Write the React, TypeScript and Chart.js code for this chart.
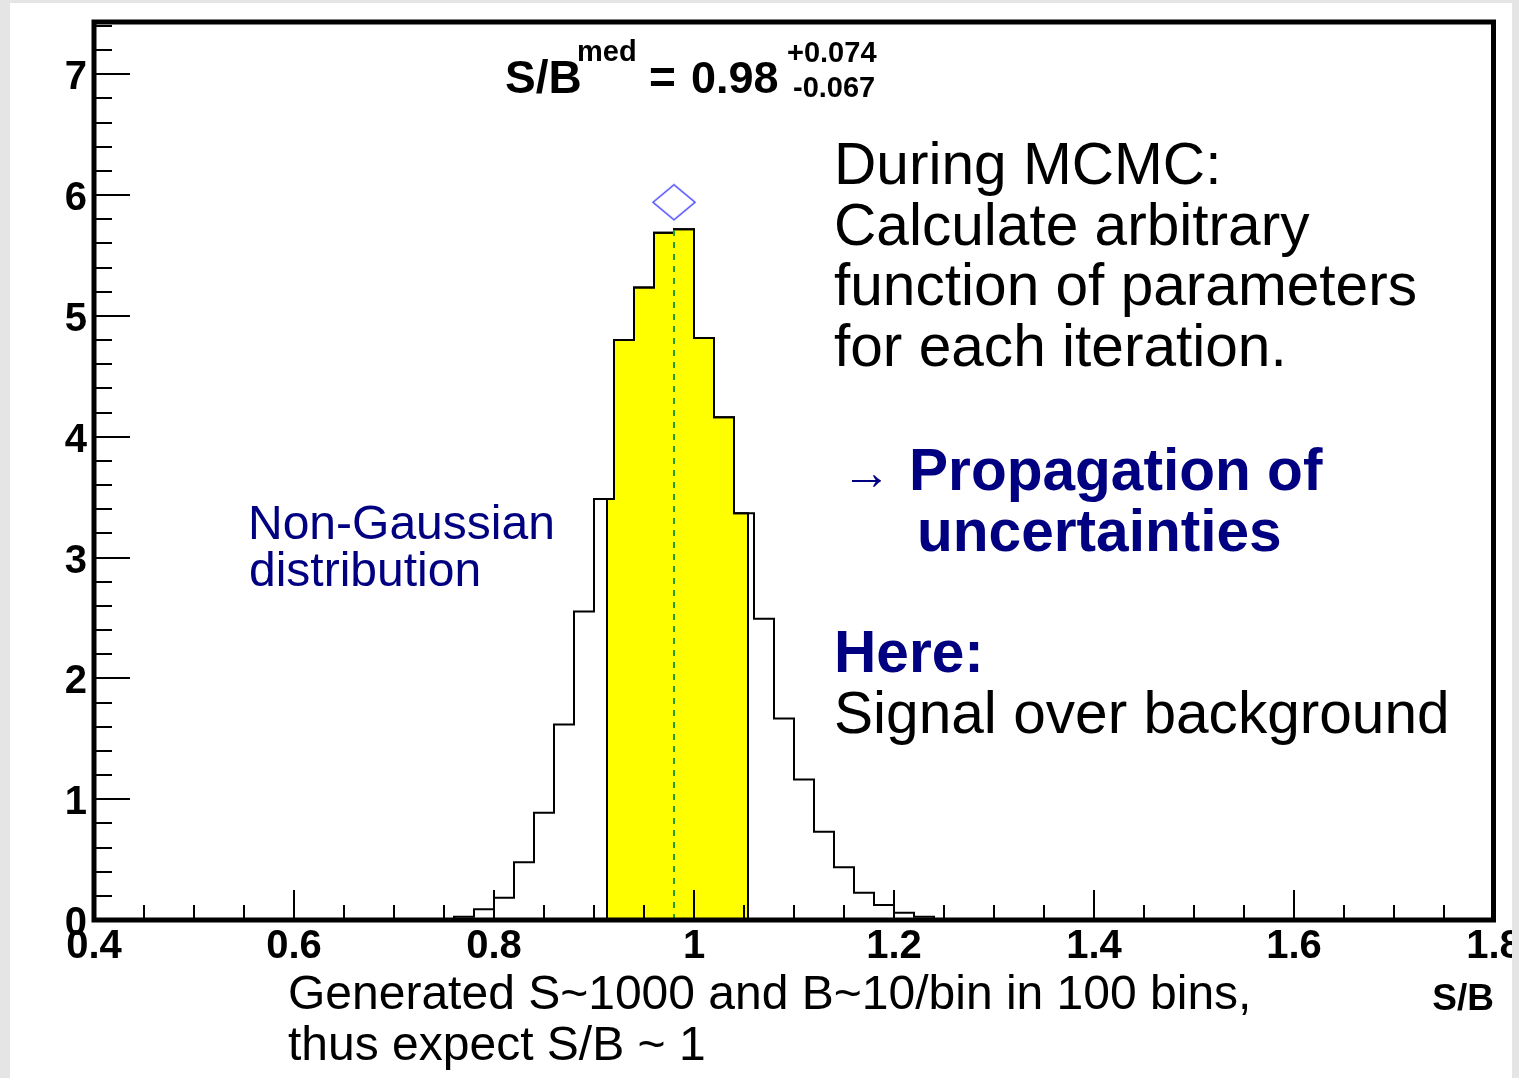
import React, { useEffect, useRef } from "react";
import { Chart, registerables } from "chart.js";

Chart.register(...registerables);

// Posterior of S/B sampled during the MCMC run: lower bin edges and normalised density
const binLowEdges = [
  0.76, 0.78, 0.8, 0.82, 0.84, 0.86, 0.88, 0.9, 0.92, 0.94, 0.96, 0.98,
  1.0, 1.02, 1.04, 1.06, 1.08, 1.1, 1.12, 1.14, 1.16, 1.18, 1.2, 1.22,
];
const binWidth = 0.02;
const binDensity = [
  0.027, 0.088, 0.184, 0.477, 0.887, 1.617, 2.554, 3.485, 4.799, 5.234, 5.688, 5.717,
  4.816, 4.16, 3.366, 2.493, 1.667, 1.163, 0.73, 0.436, 0.226, 0.124, 0.06, 0.027,
];

// Median and its asymmetric uncertainty
const sbMedian = 0.98;
const sbErrUp = 0.074;
const sbErrDown = 0.067;
const medianMarkerY = 5.94;

// Axes
const xRange = [0.4, 1.8];
const yRange = [0, 7.44];
const xTickValues = [0.4, 0.6, 0.8, 1.0, 1.2, 1.4, 1.6, 1.8];
const xTickLabels = ["0.4", "0.6", "0.8", "1", "1.2", "1.4", "1.6", "1.8"];
const yTickValues = [0, 1, 2, 3, 4, 5, 6, 7];
const yTickLabels = ["0", "1", "2", "3", "4", "5", "6", "7"];
const xMinorStep = 0.05;
const yMinorStep = 0.2;

const SANS = '"Liberation Sans", Arial, Helvetica, sans-serif';
const NAVY = "#000080";

function densityAt(x: number): number {
  for (let i = 0; i < binLowEdges.length; i++) {
    if (x >= binLowEdges[i] - 1e-9 && x < binLowEdges[i] + binWidth - 1e-9) return binDensity[i];
  }
  return 0;
}

// Step outline: each point holds its value until the next point's x
function histogramOutline() {
  const pts = [{ x: binLowEdges[0], y: 0 }];
  binLowEdges.forEach((lo, i) => pts.push({ x: lo, y: binDensity[i] }));
  const last = binLowEdges.length - 1;
  pts.push({ x: binLowEdges[last] + binWidth, y: binDensity[last] });
  pts.push({ x: binLowEdges[last] + binWidth, y: 0 });
  return pts;
}

function credibleBand() {
  const lo = sbMedian - sbErrDown;
  const hi = sbMedian + sbErrUp;
  const pts = [
    { x: lo, y: 0 },
    { x: lo, y: densityAt(lo) },
  ];
  binLowEdges.forEach((edge, i) => {
    if (edge > lo && edge < hi) pts.push({ x: edge, y: binDensity[i] });
  });
  pts.push({ x: hi, y: densityAt(hi) });
  pts.push({ x: hi, y: 0 });
  return pts;
}

function diamondImage(): HTMLCanvasElement {
  const c = document.createElement("canvas");
  c.width = 46;
  c.height = 39;
  const g = c.getContext("2d")!;
  g.strokeStyle = "#4d4dff";
  g.lineWidth = 1.6;
  g.beginPath();
  g.moveTo(2, 19.5);
  g.lineTo(23, 2);
  g.lineTo(44, 19.5);
  g.lineTo(23, 37);
  g.closePath();
  g.stroke();
  return c;
}

// Inward ROOT-style ticks and the frame around the pad
const frameTicks = {
  id: "frameTicks",
  afterDatasetsDraw(chart: any) {
    const { ctx, chartArea } = chart;
    const { left, right, top, bottom } = chartArea;
    const xs = chart.scales.x;
    const ys = chart.scales.y;
    ctx.save();
    ctx.strokeStyle = "#000";
    ctx.lineWidth = 2;
    const nx = Math.round((xRange[1] - xRange[0]) / xMinorStep);
    for (let i = 0; i <= nx; i++) {
      const v = xRange[0] + i * xMinorStep;
      const major = xTickValues.some((t) => Math.abs(t - v) < 1e-6);
      const px = Math.round(xs.getPixelForValue(v));
      ctx.beginPath();
      ctx.moveTo(px, bottom);
      ctx.lineTo(px, bottom - (major ? 30 : 15));
      ctx.stroke();
    }
    const ny = Math.floor((yRange[1] - yRange[0]) / yMinorStep + 1e-6);
    for (let i = 0; i <= ny; i++) {
      const v = yRange[0] + i * yMinorStep;
      const major = yTickValues.some((t) => Math.abs(t - v) < 1e-6);
      const py = Math.round(ys.getPixelForValue(v));
      ctx.beginPath();
      ctx.moveTo(left, py);
      ctx.lineTo(left + (major ? 36 : 18), py);
      ctx.stroke();
    }
    ctx.lineWidth = 5;
    ctx.strokeRect(left, top + 1, right - left - 0.5, bottom - top - 1);
    ctx.restore();
  },
};

function HistogramChart() {
  const ref = useRef<HTMLCanvasElement | null>(null);

  useEffect(() => {
    if (!ref.current) return;
    const chart = new Chart(ref.current, {
      type: "scatter",
      data: {
        datasets: [
          {
            label: "median marker",
            data: [{ x: sbMedian, y: medianMarkerY }],
            pointStyle: diamondImage() as any,
            pointRadius: 20,
            showLine: false,
            order: 0,
          },
          {
            label: "median",
            data: [
              { x: sbMedian, y: 0 },
              { x: sbMedian, y: densityAt(sbMedian) },
            ],
            showLine: true,
            borderColor: "#22a022",
            borderWidth: 2,
            borderDash: [6, 6],
            pointRadius: 0,
            order: 1,
          },
          {
            label: "S/B",
            data: histogramOutline(),
            showLine: true,
            stepped: "before",
            borderColor: "#000",
            borderWidth: 2,
            pointRadius: 0,
            fill: false,
            order: 2,
          },
          {
            label: "68% band",
            data: credibleBand(),
            showLine: true,
            stepped: "before",
            borderColor: "#000",
            borderWidth: 2,
            backgroundColor: "#ffff00",
            fill: "origin",
            pointRadius: 0,
            order: 3,
          },
        ],
      },
      options: {
        animation: false,
        responsive: false,
        maintainAspectRatio: false,
        devicePixelRatio: 1,
        layout: { padding: { top: 20, right: 25, left: 0, bottom: 0 } },
        plugins: {
          legend: { display: false },
          tooltip: { enabled: false },
          title: { display: false },
        },
        scales: {
          x: {
            type: "linear",
            position: "bottom",
            min: xRange[0],
            max: xRange[1],
            afterBuildTicks: (s: any) => {
              s.ticks = xTickValues.map((v) => ({ value: v }));
            },
            afterFit: (s: any) => {
              s.height = 158;
              s.paddingLeft = 0;
              s.paddingRight = 0;
            },
            grid: { display: false, drawTicks: false },
            border: { display: false },
            ticks: {
              autoSkip: false,
              maxRotation: 0,
              padding: 3,
              color: "#000",
              font: { family: SANS, size: 40, weight: "bold" },
              callback: (v: any) => xTickLabels[xTickValues.findIndex((t) => Math.abs(t - v) < 1e-9)],
            },
            title: {
              display: true,
              text: "S/B",
              align: "end",
              color: "#000",
              font: { family: SANS, size: 37, weight: "bold" },
              padding: { top: 0, bottom: 56 },
            },
          },
          y: {
            type: "linear",
            min: yRange[0],
            max: yRange[1],
            afterBuildTicks: (s: any) => {
              s.ticks = yTickValues.map((v) => ({ value: v }));
            },
            afterFit: (s: any) => {
              s.width = 94;
              s.paddingTop = 0;
              s.paddingBottom = 0;
            },
            grid: { display: false, drawTicks: false },
            border: { display: false },
            ticks: {
              autoSkip: false,
              padding: 7,
              labelOffset: 4,
              color: "#000",
              font: { family: SANS, size: 40, weight: "bold" },
              callback: (v: any) => yTickLabels[yTickValues.indexOf(Math.round(v))],
            },
          },
        },
      } as any,
      plugins: [frameTicks],
    });
    return () => chart.destroy();
  }, []);

  return (
    <canvas
      ref={ref}
      width={1519}
      height={1078}
      style={{ position: "absolute", left: 0, top: 0, width: 1519, height: 1078, zIndex: 1 }}
    />
  );
}

type TextProps = {
  x: number;
  base: number;
  size: number;
  bold?: boolean;
  color?: string;
  children: React.ReactNode;
};

// Places a line of text so that its alphabetic baseline sits at `base`
function Label({ x, base, size, bold, color, children }: TextProps) {
  return (
    <div
      style={{
        position: "absolute",
        left: x,
        top: base - 0.8465 * size,
        fontFamily: SANS,
        fontSize: size,
        lineHeight: `${size}px`,
        fontWeight: bold ? 700 : 400,
        color: color || "#000",
        whiteSpace: "pre",
        zIndex: 2,
      }}
    >
      {children}
    </div>
  );
}

export default function App() {
  return (
    <div
      style={{
        position: "fixed",
        left: 0,
        top: 0,
        width: 1519,
        height: 1078,
        background: "#e5e5e5",
        overflow: "hidden",
      }}
    >
      <div style={{ position: "absolute", left: 10, top: 3, width: 1502, height: 1075, background: "#fff" }} />
      <HistogramChart />

      {/* fit result */}
      <Label x={505} base={93} size={46} bold>S/B</Label>
      <Label x={577} base={62} size={29} bold>med</Label>
      <Label x={649} base={93} size={46} bold>=</Label>
      <Label x={691} base={93} size={45} bold>0.98</Label>
      <Label x={787} base={63} size={29} bold>+0.074</Label>
      <Label x={793} base={98} size={29} bold>-0.067</Label>

      {/* annotations */}
      <Label x={248} base={540} size={48} color={NAVY}>Non-Gaussian</Label>
      <Label x={249} base={587} size={48} color={NAVY}>distribution</Label>

      <Label x={834} base={185} size={58.6}>During MCMC:</Label>
      <Label x={834} base={246} size={58.6}>Calculate arbitrary</Label>
      <Label x={834} base={306} size={58.6}>function of parameters</Label>
      <Label x={834} base={367} size={58.6}>for each iteration.</Label>

      <Label x={842} base={489} size={49} color={NAVY}>→</Label>
      <Label x={909} base={491} size={58.6} bold color={NAVY}>Propagation of</Label>
      <Label x={917} base={552} size={58.6} bold color={NAVY}>uncertainties</Label>

      <Label x={834} base={673} size={58.6} bold color={NAVY}>Here:</Label>
      <Label x={834} base={734} size={58.6}>Signal over background</Label>

      <Label x={288} base={1010} size={48}>Generated S~1000 and B~10/bin in 100 bins,</Label>
      <Label x={288} base={1061} size={48}>thus expect S/B ~ 1</Label>

      <div style={{ position: "absolute", left: 1512, top: 0, width: 7, height: 1078, background: "#e5e5e5", zIndex: 3 }} />
    </div>
  );
}
